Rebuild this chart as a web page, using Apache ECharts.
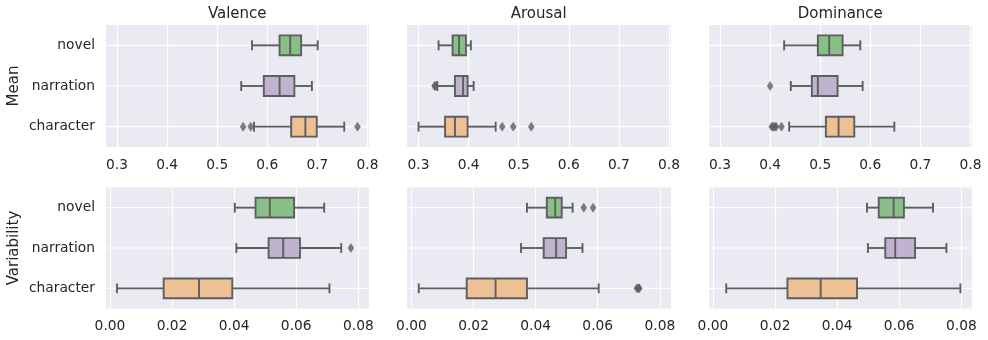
<!DOCTYPE html>
<html>
<head>
<meta charset="utf-8">
<script src="https://cdn.jsdelivr.net/npm/echarts@6/dist/echarts.min.js"></script>
<style>
  html, body { margin: 0; padding: 0; background: #fff; }
  #main { width: 988px; height: 340px; }
</style>
</head>
<body>
<div id="main"></div>
<script>
(function(){

    /* 数据 */
    var categories = ['novel', 'narration', 'character'];
    var columnTitles = ['Valence', 'Arousal', 'Dominance'];
    var rowTitles = ['Mean', 'Variability'];
    var meanExtent = [0.276, 0.804];
    var varExtent = [-0.0016, 0.0836];

    // 每个类别: [下须, Q1, 中位数, Q3, 上须]
    var valenceMean = [
        [0.5695, 0.6245, 0.6457, 0.6675, 0.7006],
        [0.548, 0.593, 0.6245, 0.654, 0.689],
        [0.5735, 0.6477, 0.676, 0.6987, 0.7536]
    ];
    var arousalMean = [
        [0.340, 0.368, 0.381, 0.3946, 0.4045],
        [0.3375, 0.3727, 0.389, 0.398, 0.41],
        [0.300, 0.353, 0.3727, 0.398, 0.454]
    ];
    var dominanceMean = [
        [0.428, 0.4953, 0.518, 0.5447, 0.58],
        [0.4413, 0.4833, 0.4953, 0.5347, 0.5847],
        [0.438, 0.5113, 0.5367, 0.568, 0.648]
    ];
    var valenceVar = [
        [0.0402, 0.0469, 0.0515, 0.0593, 0.069],
        [0.0407, 0.0511, 0.0558, 0.0612, 0.0745],
        [0.00226, 0.0173, 0.0287, 0.0394, 0.0707]
    ];
    var arousalVar = [
        [0.0372, 0.0436, 0.0463, 0.0484, 0.0519],
        [0.0353, 0.0426, 0.0466, 0.0498, 0.0551],
        [0.00234, 0.0178, 0.0271, 0.0372, 0.0603]
    ];
    var dominanceVar = [
        [0.0496, 0.0534, 0.0582, 0.0615, 0.0709],
        [0.0499, 0.0555, 0.0587, 0.0651, 0.0752],
        [0.00427, 0.024, 0.0347, 0.0464, 0.0797]
    ];

    // 离群点: [值, 类别序号]
    var valenceMeanOut = [[0.5517, 2], [0.5669, 2], [0.780, 2]];
    var arousalMeanOut = [[0.332, 1], [0.334, 1], [0.467, 2], [0.489, 2], [0.525, 2]];
    var dominanceMeanOut = [[0.400, 1], [0.4033, 2], [0.406, 2], [0.409, 2], [0.412, 2], [0.4227, 2]];
    var valenceVarOut = [[0.0776, 1]];
    var arousalVarOut = [[0.0555, 0], [0.0585, 0], [0.0726, 2], [0.0731, 2], [0.0734, 2]];
    var dominanceVarOut = [];

    var panels = [
        { box: valenceMean, out: valenceMeanOut },
        { box: arousalMean, out: arousalMeanOut },
        { box: dominanceMean, out: dominanceMeanOut },
        { box: valenceVar, out: valenceVarOut },
        { box: arousalVar, out: arousalVarOut },
        { box: dominanceVar, out: dominanceVarOut }
    ];

    var boxColors = ['#88c088', '#bfb3cf', '#eec195'];
    var lineGray = '#5e5e5e';
    var textColor = '#262626';
    var fontFamily = 'DejaVu Sans';

    var gridLefts = [105, 406.5, 708];
    var gridWidth = 264.5;
    var gridTops = [25, 187.5];
    var gridHeights = [122, 121];

    var grid = [], xAxis = [], yAxis = [], series = [];

    panels.forEach(function(p, i){
        var row = Math.floor(i / 3), col = i % 3;
        var ext = row === 0 ? meanExtent : varExtent;
        grid.push({
            left: gridLefts[col], top: gridTops[row],
            width: gridWidth, height: gridHeights[row],
            show: true, backgroundColor: '#eaeaf2', borderWidth: 0
        });
        xAxis.push({
            type: 'value', gridIndex: i,
            min: ext[0], max: ext[1],
            axisLine: { show: false }, axisTick: { show: false },
            splitLine: { lineStyle: { color: '#ffffff', width: 1.2 } },
            axisLabel: {
                margin: 11, color: textColor, fontSize: 13.8, fontFamily: fontFamily,
                formatter: function(v){
                    var k = row === 0 ? 10 : 50;
                    if (Math.abs(v * k - Math.round(v * k)) > 1e-6) return '';
                    return row === 0 ? v.toFixed(1) : v.toFixed(2);
                }
            }
        });
        yAxis.push({
            type: 'category', gridIndex: i, data: categories, inverse: true,
            axisLine: { show: false }, axisTick: { show: false },
            splitLine: { show: false },
            axisLabel: {
                show: col === 0, margin: 10, padding: [3, 0, 0, 0],
                color: textColor, fontSize: 13.8, fontFamily: fontFamily
            }
        });

        var boxData = p.box.map(function(s, ci){ return [ci].concat(s); });
        series.push({
            type: 'custom', xAxisIndex: i, yAxisIndex: i,
            dimensions: ['cat', 'lo', 'q1', 'med', 'q3', 'hi'],
            encode: { y: 0, x: [1, 2, 3, 4, 5] },
            data: boxData,
            renderItem: function(params, api){
                var ci = api.value(0);
                var lo = api.coord([api.value(1), ci]);
                var q1 = api.coord([api.value(2), ci]);
                var med = api.coord([api.value(3), ci]);
                var q3 = api.coord([api.value(4), ci]);
                var hi = api.coord([api.value(5), ci]);
                var y = lo[1];
                var band = api.size([0, 1])[1];
                var hb = band * 0.245;
                var hc = hb / 2;
                var cs = params.coordSys;
                var ls = { stroke: lineGray, lineWidth: 1.9 };
                return {
                    type: 'group',
                    children: [
                        { type: 'line', shape: { x1: cs.x, y1: y, x2: cs.x + cs.width, y2: y },
                          style: { stroke: '#ffffff', lineWidth: 1.2 } },
                        { type: 'line', shape: { x1: lo[0], y1: y, x2: q1[0], y2: y }, style: ls },
                        { type: 'line', shape: { x1: q3[0], y1: y, x2: hi[0], y2: y }, style: ls },
                        { type: 'line', shape: { x1: lo[0], y1: y - hc, x2: lo[0], y2: y + hc }, style: ls },
                        { type: 'line', shape: { x1: hi[0], y1: y - hc, x2: hi[0], y2: y + hc }, style: ls },
                        { type: 'rect', shape: { x: q1[0], y: y - hb, width: q3[0] - q1[0], height: hb * 2 },
                          style: { fill: boxColors[ci], stroke: lineGray, lineWidth: 1.9 } },
                        { type: 'line', shape: { x1: med[0], y1: y - hb, x2: med[0], y2: y + hb }, style: ls }
                    ]
                };
            },
            z: 2
        });
        series.push({
            type: 'scatter', xAxisIndex: i, yAxisIndex: i,
            data: p.out,
            symbol: 'diamond', symbolSize: [6, 9],
            itemStyle: { color: lineGray, borderColor: lineGray, borderWidth: 0.5 },
            z: 3
        });
    });

    var graphic = [];
    columnTitles.forEach(function(t, c){
        graphic.push({
            type: 'text', x: gridLefts[c] + gridWidth / 2, y: 14,
            style: { text: t, fill: textColor, font: '15px "DejaVu Sans"',
                     textAlign: 'center', textVerticalAlign: 'middle' }
        });
    });
    rowTitles.forEach(function(t, r){
        graphic.push({
            type: 'text', x: 14, y: gridTops[r] + gridHeights[r] / 2, rotation: Math.PI / 2,
            style: { text: t, fill: textColor, font: '15px "DejaVu Sans"',
                     textAlign: 'center', textVerticalAlign: 'middle' }
        });
    });

    var chart = echarts.init(document.getElementById('main'));
    chart.setOption({
        animation: false,
        grid: grid,
        xAxis: xAxis,
        yAxis: yAxis,
        series: series,
        graphic: graphic
    });

})();
</script>
</body>
</html>
